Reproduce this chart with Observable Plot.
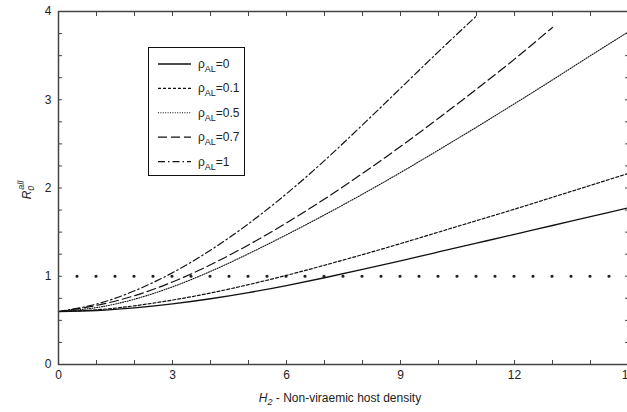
<!DOCTYPE html>
<html><head><meta charset="utf-8">
<script src="https://cdn.jsdelivr.net/npm/d3@7"></script>
<script src="https://cdn.jsdelivr.net/npm/@observablehq/plot@0.6"></script>
<style>
body{margin:0;background:#fff;}
#wrap{position:relative;width:627px;height:412px;overflow:hidden;}
#wrap svg{font-family:"Liberation Sans",Arial,sans-serif;}
</style></head><body><div id="wrap"></div>
<script>
// H2 - non-viraemic host density
const h2 = [0,1,2,3,4,5,6,7,8,9,10,11,12,13,14,15];
// R0^all for each rho_AL
const rho0   = [0.60,0.612,0.642,0.687,0.745,0.815,0.895,0.983,1.077,1.175,1.275,1.375,1.475,1.575,1.675,1.775];
const rho01  = [0.60,0.62,0.665,0.73,0.81,0.905,1.01,1.125,1.245,1.37,1.50,1.63,1.76,1.895,2.03,2.165];
const rho05  = [0.60,0.645,0.74,0.88,1.055,1.255,1.47,1.695,1.93,2.175,2.43,2.69,2.955,3.225,3.50,3.77];
const rho07  = [0.60,0.67,0.78,0.935,1.13,1.355,1.605,1.875,2.165,2.47,2.79,3.12,3.46,3.82];
const rho1   = [0.60,0.685,0.835,1.04,1.295,1.595,1.935,2.31,2.715,3.13,3.545,3.95];
const seriesNames = ["0","0.1","0.5","0.7","1"];
const threshold = 1;           // R0 = 1 reference line
const thresholdFrom = 0.5, thresholdTo = 15;
const xTickLabels = [0,3,6,9,12,15];
const yTickLabels = [0,1,2,3,4];
const xMinorTicks = [0,1,2,3,4,5,6,7,8,9,10,11,12,13,14,15];
const yMinorTicks = [0,0.25,0.5,0.75,1,1.25,1.5,1.75,2,2.25,2.5,2.75,3,3.25,3.5,3.75,4];

const seriesValues = [rho0, rho01, rho05, rho07, rho1];
const styles = [
  {dash: null, w: 1.3},
  {dash: "3 2", w: 1.2},
  {dash: "1 1.4", w: 1.1},
  {dash: "9 4", w: 1.2},
  {dash: "7 3 1.5 3", w: 1.2}
];
const table = seriesNames.map((name, k) => seriesValues[k].map((v, i) => ({x: h2[i], y: v, s: name})));

const W = 627, H = 412;
const axisColor = "#444";
const plot = Plot.plot({
  width: W, height: H,
  marginLeft: 58, marginRight: -1, marginTop: 11, marginBottom: 48,
  style: {fontFamily: "Liberation Sans, Arial, sans-serif", fontSize: "12px", color: "#222", background: "#fff", overflow: "visible"},
  x: {domain: [0, 15]},
  y: {domain: [0, 4]},
  marks: [
    Plot.ruleY([{y: threshold, x1: thresholdFrom, x2: thresholdTo}], {y: "y", x1: "x1", x2: "x2", stroke: "#222", strokeWidth: 3.2, strokeDasharray: "0 19", strokeLinecap: "round"}),
    ...table.map((d, k) => Plot.line(d, {x: "x", y: "y", curve: "natural", stroke: "#111", strokeWidth: styles[k].w, strokeDasharray: styles[k].dash})),
    Plot.frame({stroke: axisColor, strokeWidth: 1.5}),
    Plot.axisX(xMinorTicks, {anchor: "bottom", tickSize: -4, text: null, stroke: axisColor, label: null}),
    Plot.axisX(xMinorTicks, {anchor: "top", tickSize: -4, text: null, stroke: axisColor, label: null}),
    Plot.axisY(yMinorTicks, {anchor: "left", tickSize: -4, text: null, stroke: axisColor, label: null}),
    Plot.axisY(yMinorTicks, {anchor: "right", tickSize: -4, text: null, stroke: axisColor, label: null}),
    Plot.axisX(xTickLabels, {anchor: "bottom", tickSize: 0, tickPadding: 6, label: null, fill: "#222", fontSize: 12, tickFormat: d => String(d)}),
    Plot.axisY(yTickLabels, {anchor: "left", tickSize: 0, tickPadding: 7, label: null, fill: "#222", fontSize: 12, tickFormat: d => String(d)})
  ]
});
document.getElementById("wrap").appendChild(plot);

const svg = d3.select(plot);
// axis titles
const xt = svg.append("text").attr("x", 340).attr("y", 402).attr("text-anchor", "middle")
  .attr("font-size", 12).attr("fill", "#222");
xt.append("tspan").attr("font-style", "italic").text("H");
xt.append("tspan").attr("font-style", "italic").attr("font-size", 9).attr("dy", 3).text("2");
xt.append("tspan").attr("dy", -3).text(" - Non-viraemic host density");

const yt = svg.append("text").attr("transform", "translate(31,190) rotate(-90)").attr("text-anchor", "middle")
  .attr("font-size", 12).attr("fill", "#222");
yt.append("tspan").attr("font-style", "italic").text("R");
yt.append("tspan").attr("font-style", "italic").attr("font-size", 9).attr("dy", 3).text("0");
yt.append("tspan").attr("font-style", "italic").attr("font-size", 9).attr("dx", -4).attr("dy", -10).text("all");

// legend
const lg = svg.append("g").attr("text-anchor", "start");
lg.append("rect").attr("x", 148.5).attr("y", 47.5).attr("width", 96).attr("height", 128)
  .attr("fill", "#fff").attr("stroke", "#111").attr("stroke-width", 1);
seriesNames.forEach((name, k) => {
  const cy = 64 + k * 24.4;
  lg.append("line").attr("x1", 158).attr("x2", 191).attr("y1", cy).attr("y2", cy)
    .attr("stroke", "#111").attr("stroke-width", styles[k].w)
    .attr("stroke-dasharray", styles[k].dash);
  const t = lg.append("text").attr("x", 198).attr("y", cy + 4).attr("font-size", 12).attr("fill", "#222").attr("text-anchor", "start");
  t.append("tspan").text("ρ");
  t.append("tspan").attr("font-size", 9).attr("dy", 4).text("AL");
  t.append("tspan").attr("dy", -4).text("=" + name);
});
</script></body></html>
